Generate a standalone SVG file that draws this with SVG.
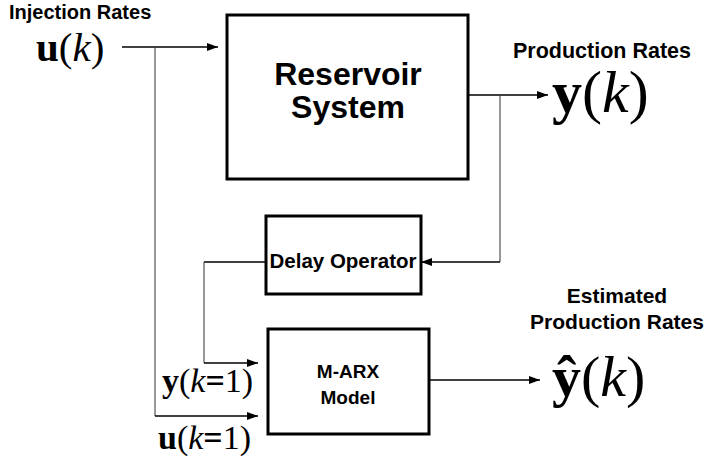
<svg xmlns="http://www.w3.org/2000/svg" width="707" height="461" viewBox="0 0 707 461">
<defs>
<marker id="arr" markerWidth="11" markerHeight="8" refX="11" refY="4" orient="auto" markerUnits="userSpaceOnUse">
<path d="M0,0 L11,4 L0,8 Z" fill="#000"/>
</marker>
<style>
.box{fill:#fff;stroke:#000;stroke-width:3}
.lbl{font-family:"Liberation Sans",Arial,sans-serif;font-weight:bold;fill:#000}
.math{font-family:"Liberation Serif","Times New Roman",serif;fill:#000}
.b{font-weight:bold}
.i{font-style:italic}
.ln{fill:none;stroke:#000;stroke-width:1.5}
.thin{fill:none;stroke:#333;stroke-width:1}
</style>
</defs>
<rect width="707" height="461" fill="#fff"/>
<g id="connectors">
<path class="ln" d="M122,47 H218" marker-end="url(#arr)"/>
<path class="thin" d="M155,47 V416"/>
<path class="ln" d="M155,416 H258" marker-end="url(#arr)"/>
<path class="ln" d="M468,95 H548" marker-end="url(#arr)"/>
<path class="thin" d="M500,95 V262"/>
<path class="ln" d="M500,262 H421" marker-end="url(#arr)"/>
<path class="ln" d="M266,262 H204"/>
<path class="thin" d="M204,262 V363"/>
<path class="ln" d="M204,363 H258" marker-end="url(#arr)"/>
<path class="ln" d="M429,380 H540" marker-end="url(#arr)"/>
</g>
<g id="reservoir">
<rect class="box" x="227" y="15" width="241" height="164"/>
<text class="lbl" x="348" y="85" font-size="32" text-anchor="middle">Reservoir</text>
<text class="lbl" x="348" y="118" font-size="32" text-anchor="middle">System</text>
</g>
<g id="delay">
<rect class="box" x="266" y="216" width="155" height="78"/>
<text class="lbl" x="343" y="268" font-size="20.5" text-anchor="middle">Delay Operator</text>
</g>
<g id="marx">
<rect class="box" x="268" y="329" width="161" height="105"/>
<text class="lbl" x="348" y="378" font-size="19" text-anchor="middle">M-ARX</text>
<text class="lbl" x="348" y="404" font-size="19" text-anchor="middle">Model</text>
</g>
<g id="labels">
<text class="lbl" x="9" y="19" font-size="20">Injection Rates</text>
<text class="math" x="36" y="61" font-size="41"><tspan class="b">u</tspan>(<tspan class="i">k</tspan>)</text>
<text class="lbl" x="513" y="58" font-size="21.5">Production Rates</text>
<text class="math" x="552" y="112" font-size="60"><tspan class="b">y</tspan>(<tspan class="i">k</tspan>)</text>
<text class="lbl" x="617" y="303" font-size="21" text-anchor="middle">Estimated</text>
<text class="lbl" x="617" y="329" font-size="21" text-anchor="middle">Production Rates</text>
<text class="math" x="552" y="396" font-size="58"><tspan class="b">ŷ</tspan>(<tspan class="i">k</tspan>)</text>
<text class="math" x="162" y="392" font-size="34"><tspan class="b">y</tspan>(<tspan class="i">k</tspan><tspan class="b">=</tspan>1)</text>
<text class="math" x="158" y="449" font-size="34"><tspan class="b">u</tspan>(<tspan class="i">k</tspan><tspan class="b">=</tspan>1)</text>
</g>
</svg>
